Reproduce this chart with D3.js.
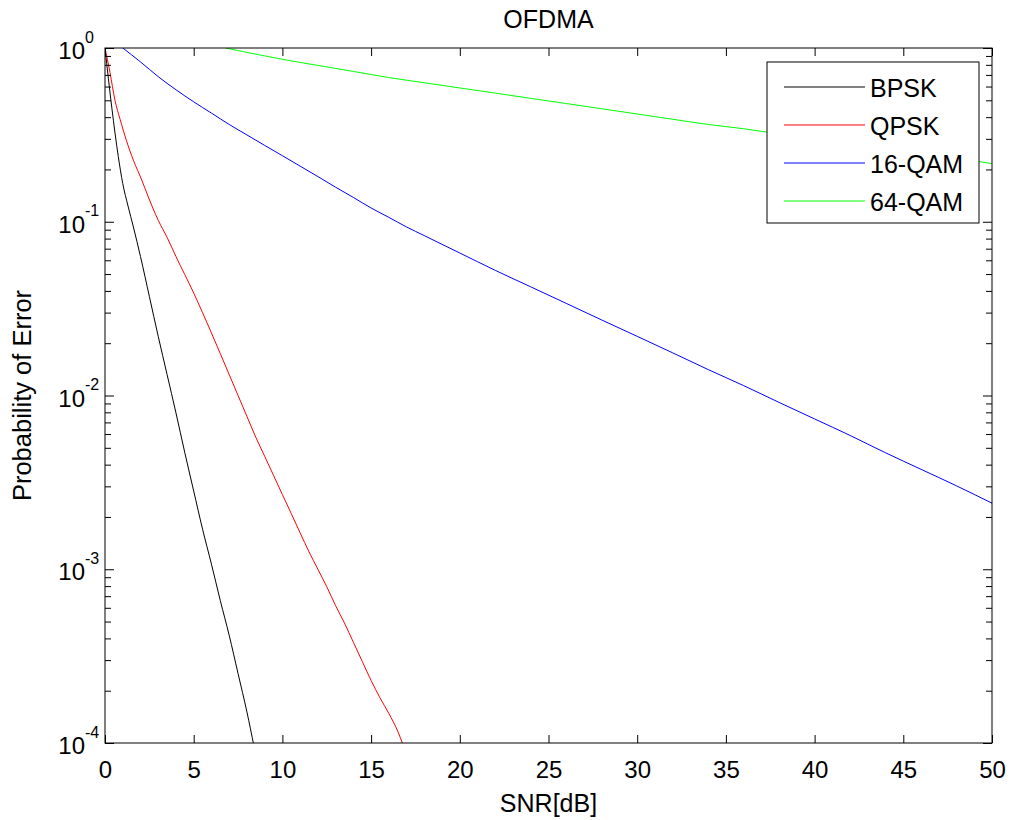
<!DOCTYPE html>
<html>
<head>
<meta charset="utf-8">
<title>OFDMA</title>
<script src="https://cdn.jsdelivr.net/npm/d3@7"></script>
<style>
  body { margin: 0; background: #fff; }
  svg { display: block; font-family: Arial, "Liberation Sans", sans-serif; }
</style>
</head>
<body>
<div class="container"></div>
<script>
// SNR points (dB) and probability of error for each modulation
const bpskSnr = [0, 0.38, 0.75, 1.0, 1.3, 1.6, 2, 2.5, 3, 3.5, 4, 4.5, 5, 5.5, 6, 6.5, 7, 7.5, 8, 8.4];
const bpskPe  = [1.0, 0.457, 0.237, 0.166, 0.123, 0.0933, 0.0631, 0.0372, 0.0219, 0.0132, 0.00794,
                 0.00468, 0.00282, 0.0017, 0.00107, 0.00066, 0.000417, 0.000251, 0.000151, 0.0000955];

const qpskSnr = [0, 0.28, 0.56, 0.85, 1.2, 1.6, 2.07, 2.44, 3, 3.5, 4, 5, 6, 7, 7.5, 8, 8.5, 9, 9.5, 10,
                 10.5, 11, 11.5, 12, 12.5, 13, 13.5, 14, 14.5, 15, 15.5, 16, 16.5, 16.8];
const qpskPe  = [1.0, 0.724, 0.501, 0.389, 0.295, 0.226, 0.174, 0.139, 0.102, 0.0813, 0.0631, 0.0389,
                 0.0229, 0.0132, 0.0100, 0.00759, 0.00575, 0.00447, 0.00347, 0.00269, 0.00209, 0.00162,
                 0.00126, 0.0010, 0.000794, 0.000617, 0.00049, 0.00038, 0.000295, 0.000229, 0.000182,
                 0.000148, 0.000117, 0.0000977];

const qam16Snr = [1, 2, 3, 4, 5, 6, 7, 8, 9, 10, 11, 12, 13, 14, 15, 16, 17, 18, 19, 20,
                  22, 24, 26, 28, 30, 32, 34, 36, 38, 40, 42, 44, 46, 48, 50];
const qam16Pe  = [1.0, 0.832, 0.684, 0.575, 0.490, 0.422, 0.363, 0.316, 0.275, 0.240, 0.209, 0.182,
                  0.158, 0.138, 0.120, 0.106, 0.0933, 0.0832, 0.0741, 0.0661, 0.0525, 0.0422, 0.0339,
                  0.0272, 0.0219, 0.0176, 0.0141, 0.0114, 0.00912, 0.00733, 0.00589, 0.00468, 0.00376,
                  0.00302, 0.0024];

const qam64Snr = [6.8, 8, 10, 12, 14, 16, 18, 20, 22, 24, 26, 28, 30, 32, 34, 36, 38, 40, 42, 44, 46, 48, 50];
const qam64Pe  = [1.0, 0.944, 0.861, 0.794, 0.733, 0.676, 0.631, 0.589, 0.550, 0.513, 0.479, 0.447,
                  0.417, 0.389, 0.363, 0.343, 0.320, 0.299, 0.282, 0.263, 0.245, 0.232, 0.216];

const seriesNames  = ["BPSK", "QPSK", "16-QAM", "64-QAM"];
const seriesColors = ["#000000", "#ff0000", "#0000ff", "#00ff00"];

const xTicks = [0, 5, 10, 15, 20, 25, 30, 35, 40, 45, 50];
const yExponents = [0, -1, -2, -3, -4];

const w = 1011;
const h = 820;
const plot = { left: 105, right: 992, top: 48, bottom: 743 };

const series = [
  { name: seriesNames[0], color: seriesColors[0], snr: bpskSnr, pe: bpskPe },
  { name: seriesNames[1], color: seriesColors[1], snr: qpskSnr, pe: qpskPe },
  { name: seriesNames[2], color: seriesColors[2], snr: qam16Snr, pe: qam16Pe },
  { name: seriesNames[3], color: seriesColors[3], snr: qam64Snr, pe: qam64Pe }
];

const xScale = d3.scaleLinear().domain([0, 50]).range([plot.left, plot.right]);
const yScale = d3.scaleLog().domain([1e-4, 1]).range([plot.bottom, plot.top]);

const svg = d3.select(".container")
  .append("svg")
  .attr("width", w)
  .attr("height", h);

svg.append("rect").attr("width", w).attr("height", h).attr("fill", "#fff");

svg.append("clipPath").attr("id", "plot-clip")
  .append("rect")
  .attr("x", plot.left).attr("y", plot.top)
  .attr("width", plot.right - plot.left)
  .attr("height", plot.bottom - plot.top);

/* Curves */
const line = d3.line()
  .x(d => xScale(d[0]))
  .y(d => yScale(d[1]))
  .curve(d3.curveMonotoneX);

svg.append("g")
  .attr("clip-path", "url(#plot-clip)")
  .selectAll("path")
  .data(series)
  .enter()
  .append("path")
  .attr("d", s => line(s.snr.map((v, i) => [v, s.pe[i]])))
  .attr("fill", "none")
  .attr("stroke", s => s.color)
  .attr("stroke-width", 1);

/* Ticks (MATLAB style, pointing inward on all four sides) */
const minorTicks = [];
yExponents.slice(0, -1).forEach(e => {
  for (let m = 2; m <= 9; m++) minorTicks.push(m * Math.pow(10, e - 1));
});
const majorTicks = yExponents.map(e => Math.pow(10, e));

const styleAxis = g => {
  g.select(".domain").remove();
  g.selectAll("line").attr("stroke", "#000");
};

svg.append("g")
  .attr("transform", "translate(" + plot.left + ",0)")
  .call(d3.axisLeft(yScale).tickValues(minorTicks).tickFormat("").tickSizeInner(-6).tickSizeOuter(0))
  .call(styleAxis);
svg.append("g")
  .attr("transform", "translate(" + plot.left + ",0)")
  .call(d3.axisLeft(yScale).tickValues(majorTicks).tickFormat("").tickSizeInner(-9).tickSizeOuter(0))
  .call(styleAxis);
svg.append("g")
  .attr("transform", "translate(" + plot.right + ",0)")
  .call(d3.axisRight(yScale).tickValues(minorTicks).tickFormat("").tickSizeInner(-6).tickSizeOuter(0))
  .call(styleAxis);
svg.append("g")
  .attr("transform", "translate(" + plot.right + ",0)")
  .call(d3.axisRight(yScale).tickValues(majorTicks).tickFormat("").tickSizeInner(-9).tickSizeOuter(0))
  .call(styleAxis);

svg.append("g")
  .attr("id", "x-axis")
  .attr("transform", "translate(0," + plot.bottom + ")")
  .call(d3.axisBottom(xScale).tickValues(xTicks).tickSizeInner(-8).tickSizeOuter(0).tickPadding(18))
  .call(styleAxis)
  .call(g => g.selectAll("text").attr("fill", "#000").attr("font-size", 24).attr("font-family", null));
svg.append("g")
  .attr("transform", "translate(0," + plot.top + ")")
  .call(d3.axisTop(xScale).tickValues(xTicks).tickFormat("").tickSizeInner(-8).tickSizeOuter(0))
  .call(styleAxis);

/* Y tick labels as 10 with a superscript exponent */
const yLabels = svg.append("g").selectAll("g")
  .data(yExponents)
  .enter()
  .append("g")
  .attr("transform", e => "translate(0," + yScale(Math.pow(10, e)) + ")");
yLabels.append("text")
  .attr("x", 85).attr("y", 11)
  .attr("text-anchor", "end")
  .attr("font-size", 24)
  .text("10");
yLabels.append("text")
  .attr("x", 85).attr("y", -5.5)
  .attr("font-size", 16)
  .text(e => e);

/* Plot box */
svg.append("rect")
  .attr("x", plot.left).attr("y", plot.top)
  .attr("width", plot.right - plot.left)
  .attr("height", plot.bottom - plot.top)
  .attr("fill", "none")
  .attr("stroke", "#000")
  .attr("stroke-width", 1);

/* Title and axis labels */
const midX = (plot.left + plot.right) / 2;
svg.append("text")
  .attr("x", midX).attr("y", 28)
  .attr("text-anchor", "middle")
  .attr("font-size", 25)
  .text("OFDMA");
svg.append("text")
  .attr("x", midX).attr("y", 812)
  .attr("text-anchor", "middle")
  .attr("font-size", 25)
  .text("SNR[dB]");
svg.append("text")
  .attr("transform", "translate(31," + (plot.top + plot.bottom) / 2 + ") rotate(-90)")
  .attr("text-anchor", "middle")
  .attr("font-size", 25.5)
  .text("Probability of Error");

/* Legend */
const legend = svg.append("g").attr("transform", "translate(767,62)");
legend.append("rect")
  .attr("width", 212).attr("height", 161)
  .attr("fill", "#fff")
  .attr("stroke", "#000")
  .attr("stroke-width", 1);
const rows = legend.selectAll("g.row")
  .data(series)
  .enter()
  .append("g")
  .attr("class", "row")
  .attr("transform", (s, i) => "translate(0," + (25 + i * 38) + ")");
rows.append("line")
  .attr("x1", 17).attr("x2", 98)
  .attr("y1", 0).attr("y2", 0)
  .attr("stroke", s => s.color)
  .attr("stroke-width", 1);
rows.append("text")
  .attr("x", 103).attr("y", 9.5)
  .attr("font-size", 25)
  .text(s => s.name);
</script>
</body>
</html>
